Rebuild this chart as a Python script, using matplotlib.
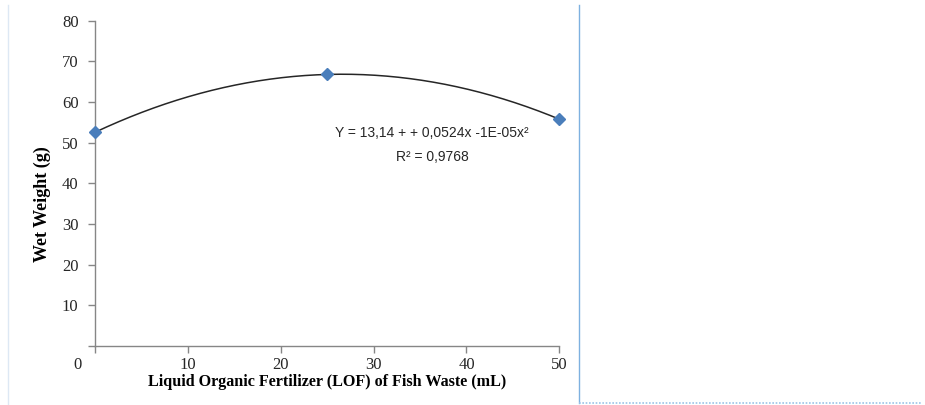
import matplotlib
matplotlib.use('Agg')
import matplotlib.pyplot as plt
from matplotlib.lines import Line2D
import numpy as np

# doses of LOF (mL) and measured wet weight (g)
dose = [0, 25, 50]
wet_weight = [52.6, 66.8, 55.8]
x_ticks = [0, 10, 20, 30, 40, 50]
y_ticks = [0, 10, 20, 30, 40, 50, 60, 70, 80]
equation = "Y = 13,14 + + 0,0524x -1E-05x²"
r_squared = "R² = 0,9768"

fig = plt.figure(figsize=(9.25, 4.05), dpi=100)
ax = fig.add_axes([0.103, 0.1457, 0.5016, 0.803])

# quadratic trend line
coef = np.polyfit(dose, wet_weight, 2)
xs = np.linspace(min(dose), max(dose), 200)
ax.plot(xs, np.polyval(coef, xs), color='#262626', lw=1.1, zorder=2)
ax.plot(dose, wet_weight, linestyle='none', marker='D', markersize=6.5,
        color='#4a7ebb', markeredgecolor='#4a7ebb', clip_on=False, zorder=3)

ax.set_xlim(0, 50)
ax.set_ylim(0, 80)
ax.set_xticks(x_ticks)
ax.set_xticklabels([''] + [str(v) for v in x_ticks[1:]])
ax.set_yticks(y_ticks)
ax.set_yticklabels([''] + [str(v) for v in y_ticks[1:]])

for side in ['top', 'right']:
    ax.spines[side].set_visible(False)
for side in ['left', 'bottom']:
    ax.spines[side].set_color('#868686')
    ax.spines[side].set_linewidth(1.0)
ax.tick_params(direction='out', length=5, width=1, color='#868686',
               labelsize=12, labelcolor='#262626', pad=3)
ax.tick_params(axis='y', pad=7)
for lbl in ax.get_xticklabels() + ax.get_yticklabels():
    lbl.set_fontfamily('Liberation Serif')

# shared zero label at the corner
fig.text(77 / 925, 1 - 365 / 405, '0', fontsize=12, family='Liberation Serif',
         color='#262626', ha='center', va='center')

ax.set_xlabel('Liquid Organic Fertilizer (LOF) of Fish Waste (mL)',
              family='Liberation Serif', fontweight='bold', fontsize=11.6, labelpad=1)
ax.set_ylabel('Wet Weight (g)', family='Liberation Serif', fontweight='bold',
              fontsize=13)
ax.yaxis.set_label_coords(-(95.3 - 51) / 464, (346 - 204) / 325.3)

ax.text(432 / 925, 1 - 133 / 405, equation, transform=fig.transFigure,
        family='Liberation Sans', fontsize=10, ha='center', va='center', color='#262626')
ax.text(432 / 925, 1 - 157 / 405, r_squared, transform=fig.transFigure,
        family='Liberation Sans', fontsize=10, ha='center', va='center', color='#262626')

# page frame lines around the chart
fig.add_artist(Line2D([7.5 / 925, 7.5 / 925], [0, 1 - 5 / 405], color='#dde8f4', lw=1))
fig.add_artist(Line2D([579 / 925, 579 / 925], [1 - 403 / 405, 1 - 5 / 405], color='#7eb1e0', lw=1))
fig.add_artist(Line2D([579 / 925, 922 / 925], [1 - 403 / 405, 1 - 403 / 405],
                      color='#9cc3e8', lw=1.2, linestyle=(0, (1, 1))))

fig.savefig('out.png', dpi=100)
